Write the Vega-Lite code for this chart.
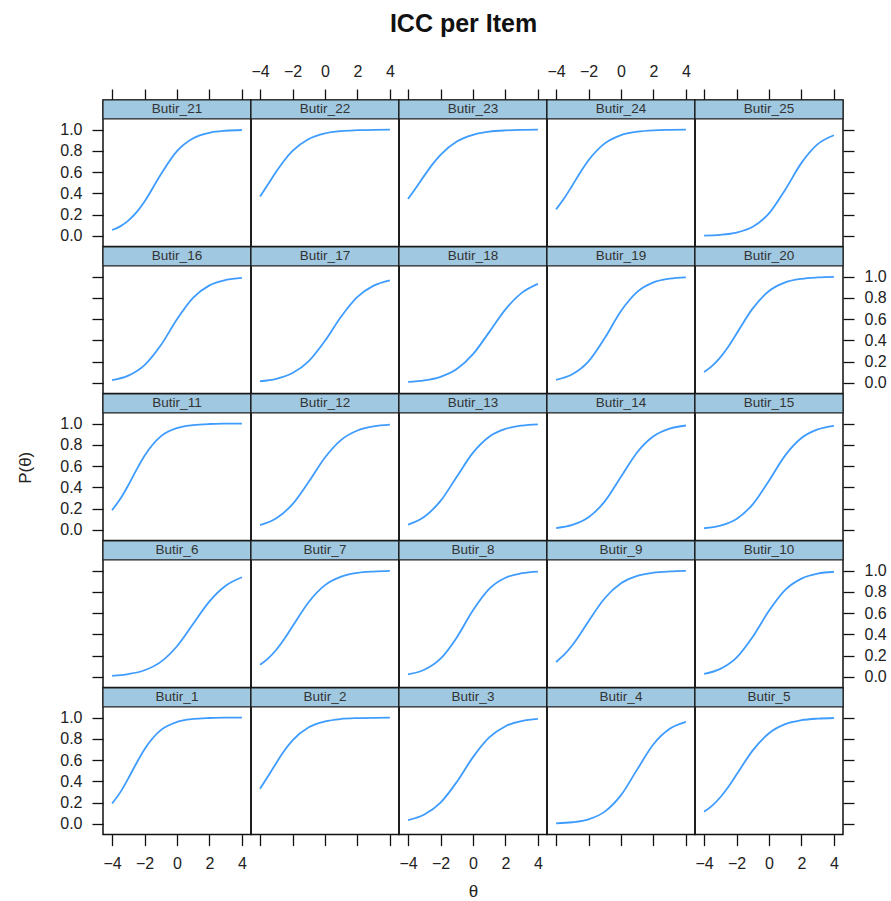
{
"$schema": "https://vega.github.io/schema/vega-lite/v6.json",
"title": {"text": "ICC per Item", "font": "Liberation Sans", "fontSize": 25, "fontWeight": "bold", "color": "#111", "anchor": "middle", "offset": 25, "dx": 12},
"padding": {"left": 16, "top": 12, "right": 0, "bottom": 6},
"config": {
 "view": {"stroke": "#111", "strokeWidth": 1.5},
 "axis": {"grid": false, "domain": false, "tickColor": "#111", "tickSize": 11, "tickWidth": 1.3, "labelFont": "Liberation Sans", "labelFontSize": 16, "labelColor": "#222", "labelPadding": 10, "titleFont": "Liberation Sans", "titleFontSize": 17, "titleFontWeight": "normal", "titleColor": "#222", "labelFlush": false, "labelOverlap": false}
},
"datasets": {"icc": [
{"item":"Butir_1","theta":-4,"p":0.192},{"item":"Butir_1","theta":-3.5,"p":0.297},{"item":"Butir_1","theta":-3,"p":0.429},{"item":"Butir_1","theta":-2.5,"p":0.571},{"item":"Butir_1","theta":-2,"p":0.703},{"item":"Butir_1","theta":-1,"p":0.882},{"item":"Butir_1","theta":0,"p":0.959},{"item":"Butir_1","theta":1,"p":0.987},{"item":"Butir_1","theta":2,"p":0.996},{"item":"Butir_1","theta":3,"p":0.999},{"item":"Butir_1","theta":4,"p":1.0},
{"item":"Butir_2","theta":-4,"p":0.332},{"item":"Butir_2","theta":-3.5,"p":0.45},{"item":"Butir_2","theta":-3,"p":0.574},{"item":"Butir_2","theta":-2.5,"p":0.69},{"item":"Butir_2","theta":-2,"p":0.786},{"item":"Butir_2","theta":-1,"p":0.909},{"item":"Butir_2","theta":0,"p":0.964},{"item":"Butir_2","theta":1,"p":0.987},{"item":"Butir_2","theta":2,"p":0.995},{"item":"Butir_2","theta":3,"p":0.998},{"item":"Butir_2","theta":4,"p":0.999},
{"item":"Butir_3","theta":-4,"p":0.036},{"item":"Butir_3","theta":-3,"p":0.089},{"item":"Butir_3","theta":-2,"p":0.201},{"item":"Butir_3","theta":-1,"p":0.395},{"item":"Butir_3","theta":0,"p":0.628},{"item":"Butir_3","theta":1,"p":0.813},{"item":"Butir_3","theta":2,"p":0.919},{"item":"Butir_3","theta":3,"p":0.967},{"item":"Butir_3","theta":4,"p":0.987},
{"item":"Butir_4","theta":-4,"p":0.006},{"item":"Butir_4","theta":-3,"p":0.016},{"item":"Butir_4","theta":-2,"p":0.044},{"item":"Butir_4","theta":-1,"p":0.116},{"item":"Butir_4","theta":0,"p":0.271},{"item":"Butir_4","theta":1,"p":0.513},{"item":"Butir_4","theta":2,"p":0.749},{"item":"Butir_4","theta":3,"p":0.894},{"item":"Butir_4","theta":4,"p":0.96},
{"item":"Butir_5","theta":-4,"p":0.115},{"item":"Butir_5","theta":-3.5,"p":0.173},{"item":"Butir_5","theta":-3,"p":0.251},{"item":"Butir_5","theta":-2.5,"p":0.35},{"item":"Butir_5","theta":-2,"p":0.464},{"item":"Butir_5","theta":-1,"p":0.692},{"item":"Butir_5","theta":0,"p":0.853},{"item":"Butir_5","theta":1,"p":0.938},{"item":"Butir_5","theta":2,"p":0.975},{"item":"Butir_5","theta":3,"p":0.99},{"item":"Butir_5","theta":4,"p":0.996},
{"item":"Butir_6","theta":-4,"p":0.011},{"item":"Butir_6","theta":-3,"p":0.027},{"item":"Butir_6","theta":-2,"p":0.063},{"item":"Butir_6","theta":-1,"p":0.142},{"item":"Butir_6","theta":0,"p":0.289},{"item":"Butir_6","theta":1,"p":0.5},{"item":"Butir_6","theta":2,"p":0.711},{"item":"Butir_6","theta":3,"p":0.858},{"item":"Butir_6","theta":4,"p":0.937},
{"item":"Butir_7","theta":-4,"p":0.115},{"item":"Butir_7","theta":-3.5,"p":0.175},{"item":"Butir_7","theta":-3,"p":0.256},{"item":"Butir_7","theta":-2.5,"p":0.359},{"item":"Butir_7","theta":-2,"p":0.476},{"item":"Butir_7","theta":-1,"p":0.705},{"item":"Butir_7","theta":0,"p":0.863},{"item":"Butir_7","theta":1,"p":0.943},{"item":"Butir_7","theta":2,"p":0.978},{"item":"Butir_7","theta":3,"p":0.991},{"item":"Butir_7","theta":4,"p":0.997},
{"item":"Butir_8","theta":-4,"p":0.025},{"item":"Butir_8","theta":-3,"p":0.068},{"item":"Butir_8","theta":-2,"p":0.172},{"item":"Butir_8","theta":-1,"p":0.372},{"item":"Butir_8","theta":0,"p":0.628},{"item":"Butir_8","theta":1,"p":0.829},{"item":"Butir_8","theta":2,"p":0.933},{"item":"Butir_8","theta":3,"p":0.975},{"item":"Butir_8","theta":4,"p":0.991},
{"item":"Butir_9","theta":-4,"p":0.141},{"item":"Butir_9","theta":-3.5,"p":0.209},{"item":"Butir_9","theta":-3,"p":0.298},{"item":"Butir_9","theta":-2.5,"p":0.406},{"item":"Butir_9","theta":-2,"p":0.524},{"item":"Butir_9","theta":-1,"p":0.74},{"item":"Butir_9","theta":0,"p":0.88},{"item":"Butir_9","theta":1,"p":0.95},{"item":"Butir_9","theta":2,"p":0.98},{"item":"Butir_9","theta":3,"p":0.992},{"item":"Butir_9","theta":4,"p":0.997},
{"item":"Butir_10","theta":-4,"p":0.029},{"item":"Butir_10","theta":-3,"p":0.076},{"item":"Butir_10","theta":-2,"p":0.182},{"item":"Butir_10","theta":-1,"p":0.378},{"item":"Butir_10","theta":0,"p":0.622},{"item":"Butir_10","theta":1,"p":0.818},{"item":"Butir_10","theta":2,"p":0.924},{"item":"Butir_10","theta":3,"p":0.971},{"item":"Butir_10","theta":4,"p":0.989},
{"item":"Butir_11","theta":-4,"p":0.186},{"item":"Butir_11","theta":-3.5,"p":0.29},{"item":"Butir_11","theta":-3,"p":0.421},{"item":"Butir_11","theta":-2.5,"p":0.565},{"item":"Butir_11","theta":-2,"p":0.698},{"item":"Butir_11","theta":-1,"p":0.88},{"item":"Butir_11","theta":0,"p":0.958},{"item":"Butir_11","theta":1,"p":0.986},{"item":"Butir_11","theta":2,"p":0.996},{"item":"Butir_11","theta":3,"p":0.999},{"item":"Butir_11","theta":4,"p":1.0},
{"item":"Butir_12","theta":-4,"p":0.046},{"item":"Butir_12","theta":-3,"p":0.11},{"item":"Butir_12","theta":-2,"p":0.242},{"item":"Butir_12","theta":-1,"p":0.453},{"item":"Butir_12","theta":0,"p":0.681},{"item":"Butir_12","theta":1,"p":0.847},{"item":"Butir_12","theta":2,"p":0.935},{"item":"Butir_12","theta":3,"p":0.974},{"item":"Butir_12","theta":4,"p":0.99},
{"item":"Butir_13","theta":-4,"p":0.05},{"item":"Butir_13","theta":-3,"p":0.124},{"item":"Butir_13","theta":-2,"p":0.273},{"item":"Butir_13","theta":-1,"p":0.5},{"item":"Butir_13","theta":0,"p":0.727},{"item":"Butir_13","theta":1,"p":0.877},{"item":"Butir_13","theta":2,"p":0.95},{"item":"Butir_13","theta":3,"p":0.981},{"item":"Butir_13","theta":4,"p":0.993},
{"item":"Butir_14","theta":-4,"p":0.018},{"item":"Butir_14","theta":-3,"p":0.047},{"item":"Butir_14","theta":-2,"p":0.119},{"item":"Butir_14","theta":-1,"p":0.269},{"item":"Butir_14","theta":0,"p":0.5},{"item":"Butir_14","theta":1,"p":0.731},{"item":"Butir_14","theta":2,"p":0.881},{"item":"Butir_14","theta":3,"p":0.953},{"item":"Butir_14","theta":4,"p":0.982},
{"item":"Butir_15","theta":-4,"p":0.016},{"item":"Butir_15","theta":-3,"p":0.041},{"item":"Butir_15","theta":-2,"p":0.104},{"item":"Butir_15","theta":-1,"p":0.241},{"item":"Butir_15","theta":0,"p":0.463},{"item":"Butir_15","theta":1,"p":0.701},{"item":"Butir_15","theta":2,"p":0.864},{"item":"Butir_15","theta":3,"p":0.945},{"item":"Butir_15","theta":4,"p":0.979},
{"item":"Butir_16","theta":-4,"p":0.027},{"item":"Butir_16","theta":-3,"p":0.069},{"item":"Butir_16","theta":-2,"p":0.168},{"item":"Butir_16","theta":-1,"p":0.354},{"item":"Butir_16","theta":0,"p":0.599},{"item":"Butir_16","theta":1,"p":0.802},{"item":"Butir_16","theta":2,"p":0.917},{"item":"Butir_16","theta":3,"p":0.968},{"item":"Butir_16","theta":4,"p":0.988},
{"item":"Butir_17","theta":-4,"p":0.016},{"item":"Butir_17","theta":-3,"p":0.039},{"item":"Butir_17","theta":-2,"p":0.093},{"item":"Butir_17","theta":-1,"p":0.206},{"item":"Butir_17","theta":0,"p":0.397},{"item":"Butir_17","theta":1,"p":0.625},{"item":"Butir_17","theta":2,"p":0.809},{"item":"Butir_17","theta":3,"p":0.915},{"item":"Butir_17","theta":4,"p":0.965},
{"item":"Butir_18","theta":-4,"p":0.01},{"item":"Butir_18","theta":-3,"p":0.024},{"item":"Butir_18","theta":-2,"p":0.058},{"item":"Butir_18","theta":-1,"p":0.131},{"item":"Butir_18","theta":0,"p":0.271},{"item":"Butir_18","theta":1,"p":0.478},{"item":"Butir_18","theta":2,"p":0.692},{"item":"Butir_18","theta":3,"p":0.847},{"item":"Butir_18","theta":4,"p":0.932},
{"item":"Butir_19","theta":-4,"p":0.03},{"item":"Butir_19","theta":-3,"p":0.082},{"item":"Butir_19","theta":-2,"p":0.203},{"item":"Butir_19","theta":-1,"p":0.422},{"item":"Butir_19","theta":0,"p":0.676},{"item":"Butir_19","theta":1,"p":0.856},{"item":"Butir_19","theta":2,"p":0.945},{"item":"Butir_19","theta":3,"p":0.98},{"item":"Butir_19","theta":4,"p":0.993},
{"item":"Butir_20","theta":-4,"p":0.104},{"item":"Butir_20","theta":-3.5,"p":0.161},{"item":"Butir_20","theta":-3,"p":0.241},{"item":"Butir_20","theta":-2.5,"p":0.343},{"item":"Butir_20","theta":-2,"p":0.463},{"item":"Butir_20","theta":-1,"p":0.701},{"item":"Butir_20","theta":0,"p":0.864},{"item":"Butir_20","theta":1,"p":0.945},{"item":"Butir_20","theta":2,"p":0.979},{"item":"Butir_20","theta":3,"p":0.992},{"item":"Butir_20","theta":4,"p":0.997},
{"item":"Butir_21","theta":-4,"p":0.056},{"item":"Butir_21","theta":-3.5,"p":0.09},{"item":"Butir_21","theta":-3,"p":0.144},{"item":"Butir_21","theta":-2.5,"p":0.221},{"item":"Butir_21","theta":-2,"p":0.324},{"item":"Butir_21","theta":-1,"p":0.578},{"item":"Butir_21","theta":0,"p":0.797},{"item":"Butir_21","theta":1,"p":0.918},{"item":"Butir_21","theta":2,"p":0.97},{"item":"Butir_21","theta":3,"p":0.989},{"item":"Butir_21","theta":4,"p":0.996},
{"item":"Butir_22","theta":-4,"p":0.372},{"item":"Butir_22","theta":-3.5,"p":0.488},{"item":"Butir_22","theta":-3,"p":0.605},{"item":"Butir_22","theta":-2.5,"p":0.712},{"item":"Butir_22","theta":-2,"p":0.799},{"item":"Butir_22","theta":-1,"p":0.911},{"item":"Butir_22","theta":0,"p":0.964},{"item":"Butir_22","theta":1,"p":0.986},{"item":"Butir_22","theta":2,"p":0.994},{"item":"Butir_22","theta":3,"p":0.998},{"item":"Butir_22","theta":4,"p":0.999},
{"item":"Butir_23","theta":-4,"p":0.348},{"item":"Butir_23","theta":-3.5,"p":0.455},{"item":"Butir_23","theta":-3,"p":0.567},{"item":"Butir_23","theta":-2.5,"p":0.673},{"item":"Butir_23","theta":-2,"p":0.763},{"item":"Butir_23","theta":-1,"p":0.888},{"item":"Butir_23","theta":0,"p":0.951},{"item":"Butir_23","theta":1,"p":0.98},{"item":"Butir_23","theta":2,"p":0.992},{"item":"Butir_23","theta":3,"p":0.997},{"item":"Butir_23","theta":4,"p":0.999},
{"item":"Butir_24","theta":-4,"p":0.25},{"item":"Butir_24","theta":-3.5,"p":0.354},{"item":"Butir_24","theta":-3,"p":0.475},{"item":"Butir_24","theta":-2.5,"p":0.599},{"item":"Butir_24","theta":-2,"p":0.711},{"item":"Butir_24","theta":-1,"p":0.87},{"item":"Butir_24","theta":0,"p":0.948},{"item":"Butir_24","theta":1,"p":0.98},{"item":"Butir_24","theta":2,"p":0.993},{"item":"Butir_24","theta":3,"p":0.997},{"item":"Butir_24","theta":4,"p":0.999},
{"item":"Butir_25","theta":-4,"p":0.004},{"item":"Butir_25","theta":-3,"p":0.011},{"item":"Butir_25","theta":-2,"p":0.032},{"item":"Butir_25","theta":-1,"p":0.086},{"item":"Butir_25","theta":0,"p":0.212},{"item":"Butir_25","theta":1,"p":0.435},{"item":"Butir_25","theta":2,"p":0.687},{"item":"Butir_25","theta":3,"p":0.863},{"item":"Butir_25","theta":4,"p":0.947}
]},
"columns": 5,
"spacing": 0,
"bounds": "flush",
"concat": [
{"width":148,"height":146.6,"resolve":{"axis":{"x":"independent","y":"independent"}},"layer":[
 {"data":{"name":"icc"},"transform":[{"filter":"datum.item==='Butir_21'"}],"mark":{"type":"line","interpolate":"monotone","color":"#3f9cff","strokeWidth":1.8},"encoding":{"x":{"field":"theta","type":"quantitative","scale":{"domain":[-4.56,4.56],"nice":false,"zero":false},"axis":{"orient":"top","values":[-4,-2,0,2,4],"labels":false,"title":null}},"y":{"field":"p","type":"quantitative","scale":{"domain":[-0.1,1.278],"nice":false,"zero":false},"axis":{"orient":"left","values":[0,0.2,0.4,0.6,0.8,1],"format":".1f","title":null}}}},
 {"data":{"values":[{"item":"Butir_21"}]},"mark":{"type":"rect","fill":"#a0c9e1","stroke":"#222","strokeWidth":1.2},"encoding":{"x":{"datum":-4.56,"type":"quantitative","axis":null},"x2":{"datum":4.56},"y":{"datum":1.1,"type":"quantitative","axis":null},"y2":{"datum":1.278}}},
 {"data":{"values":[{"item":"Butir_21"}]},"mark":{"type":"text","font":"Liberation Sans","fontSize":13.5,"color":"#333","baseline":"middle"},"encoding":{"x":{"datum":0,"type":"quantitative","axis":null},"y":{"datum":1.189,"type":"quantitative","axis":null},"text":{"field":"item"}}}
]},
{"width":148,"height":146.6,"resolve":{"axis":{"x":"independent","y":"independent"}},"layer":[
 {"data":{"name":"icc"},"transform":[{"filter":"datum.item==='Butir_22'"}],"mark":{"type":"line","interpolate":"monotone","color":"#3f9cff","strokeWidth":1.8},"encoding":{"x":{"field":"theta","type":"quantitative","scale":{"domain":[-4.56,4.56],"nice":false,"zero":false},"axis":{"orient":"top","values":[-4,-2,0,2,4],"title":null}},"y":{"field":"p","type":"quantitative","scale":{"domain":[-0.1,1.278],"nice":false,"zero":false},"axis":null}}},
 {"data":{"values":[{"item":"Butir_22"}]},"mark":{"type":"rect","fill":"#a0c9e1","stroke":"#222","strokeWidth":1.2},"encoding":{"x":{"datum":-4.56,"type":"quantitative","axis":null},"x2":{"datum":4.56},"y":{"datum":1.1,"type":"quantitative","axis":null},"y2":{"datum":1.278}}},
 {"data":{"values":[{"item":"Butir_22"}]},"mark":{"type":"text","font":"Liberation Sans","fontSize":13.5,"color":"#333","baseline":"middle"},"encoding":{"x":{"datum":0,"type":"quantitative","axis":null},"y":{"datum":1.189,"type":"quantitative","axis":null},"text":{"field":"item"}}}
]},
{"width":148,"height":146.6,"resolve":{"axis":{"x":"independent","y":"independent"}},"layer":[
 {"data":{"name":"icc"},"transform":[{"filter":"datum.item==='Butir_23'"}],"mark":{"type":"line","interpolate":"monotone","color":"#3f9cff","strokeWidth":1.8},"encoding":{"x":{"field":"theta","type":"quantitative","scale":{"domain":[-4.56,4.56],"nice":false,"zero":false},"axis":{"orient":"top","values":[-4,-2,0,2,4],"labels":false,"title":null}},"y":{"field":"p","type":"quantitative","scale":{"domain":[-0.1,1.278],"nice":false,"zero":false},"axis":null}}},
 {"data":{"values":[{"item":"Butir_23"}]},"mark":{"type":"rect","fill":"#a0c9e1","stroke":"#222","strokeWidth":1.2},"encoding":{"x":{"datum":-4.56,"type":"quantitative","axis":null},"x2":{"datum":4.56},"y":{"datum":1.1,"type":"quantitative","axis":null},"y2":{"datum":1.278}}},
 {"data":{"values":[{"item":"Butir_23"}]},"mark":{"type":"text","font":"Liberation Sans","fontSize":13.5,"color":"#333","baseline":"middle"},"encoding":{"x":{"datum":0,"type":"quantitative","axis":null},"y":{"datum":1.189,"type":"quantitative","axis":null},"text":{"field":"item"}}}
]},
{"width":148,"height":146.6,"resolve":{"axis":{"x":"independent","y":"independent"}},"layer":[
 {"data":{"name":"icc"},"transform":[{"filter":"datum.item==='Butir_24'"}],"mark":{"type":"line","interpolate":"monotone","color":"#3f9cff","strokeWidth":1.8},"encoding":{"x":{"field":"theta","type":"quantitative","scale":{"domain":[-4.56,4.56],"nice":false,"zero":false},"axis":{"orient":"top","values":[-4,-2,0,2,4],"title":null}},"y":{"field":"p","type":"quantitative","scale":{"domain":[-0.1,1.278],"nice":false,"zero":false},"axis":null}}},
 {"data":{"values":[{"item":"Butir_24"}]},"mark":{"type":"rect","fill":"#a0c9e1","stroke":"#222","strokeWidth":1.2},"encoding":{"x":{"datum":-4.56,"type":"quantitative","axis":null},"x2":{"datum":4.56},"y":{"datum":1.1,"type":"quantitative","axis":null},"y2":{"datum":1.278}}},
 {"data":{"values":[{"item":"Butir_24"}]},"mark":{"type":"text","font":"Liberation Sans","fontSize":13.5,"color":"#333","baseline":"middle"},"encoding":{"x":{"datum":0,"type":"quantitative","axis":null},"y":{"datum":1.189,"type":"quantitative","axis":null},"text":{"field":"item"}}}
]},
{"width":148,"height":146.6,"resolve":{"axis":{"x":"independent","y":"independent"}},"layer":[
 {"data":{"name":"icc"},"transform":[{"filter":"datum.item==='Butir_25'"}],"mark":{"type":"line","interpolate":"monotone","color":"#3f9cff","strokeWidth":1.8},"encoding":{"x":{"field":"theta","type":"quantitative","scale":{"domain":[-4.56,4.56],"nice":false,"zero":false},"axis":{"orient":"top","values":[-4,-2,0,2,4],"labels":false,"title":null}},"y":{"field":"p","type":"quantitative","scale":{"domain":[-0.1,1.278],"nice":false,"zero":false},"axis":{"orient":"right","values":[0,0.2,0.4,0.6,0.8,1],"labels":false,"title":null}}}},
 {"data":{"values":[{"item":"Butir_25"}]},"mark":{"type":"rect","fill":"#a0c9e1","stroke":"#222","strokeWidth":1.2},"encoding":{"x":{"datum":-4.56,"type":"quantitative","axis":null},"x2":{"datum":4.56},"y":{"datum":1.1,"type":"quantitative","axis":null},"y2":{"datum":1.278}}},
 {"data":{"values":[{"item":"Butir_25"}]},"mark":{"type":"text","font":"Liberation Sans","fontSize":13.5,"color":"#333","baseline":"middle"},"encoding":{"x":{"datum":0,"type":"quantitative","axis":null},"y":{"datum":1.189,"type":"quantitative","axis":null},"text":{"field":"item"}}}
]},
{"width":148,"height":146.6,"resolve":{"axis":{"x":"independent","y":"independent"}},"layer":[
 {"data":{"name":"icc"},"transform":[{"filter":"datum.item==='Butir_16'"}],"mark":{"type":"line","interpolate":"monotone","color":"#3f9cff","strokeWidth":1.8},"encoding":{"x":{"field":"theta","type":"quantitative","scale":{"domain":[-4.56,4.56],"nice":false,"zero":false},"axis":null},"y":{"field":"p","type":"quantitative","scale":{"domain":[-0.1,1.278],"nice":false,"zero":false},"axis":{"orient":"left","values":[0,0.2,0.4,0.6,0.8,1],"labels":false,"title":null}}}},
 {"data":{"values":[{"item":"Butir_16"}]},"mark":{"type":"rect","fill":"#a0c9e1","stroke":"#222","strokeWidth":1.2},"encoding":{"x":{"datum":-4.56,"type":"quantitative","axis":null},"x2":{"datum":4.56},"y":{"datum":1.1,"type":"quantitative","axis":null},"y2":{"datum":1.278}}},
 {"data":{"values":[{"item":"Butir_16"}]},"mark":{"type":"text","font":"Liberation Sans","fontSize":13.5,"color":"#333","baseline":"middle"},"encoding":{"x":{"datum":0,"type":"quantitative","axis":null},"y":{"datum":1.189,"type":"quantitative","axis":null},"text":{"field":"item"}}}
]},
{"width":148,"height":146.6,"resolve":{"axis":{"x":"independent","y":"independent"}},"layer":[
 {"data":{"name":"icc"},"transform":[{"filter":"datum.item==='Butir_17'"}],"mark":{"type":"line","interpolate":"monotone","color":"#3f9cff","strokeWidth":1.8},"encoding":{"x":{"field":"theta","type":"quantitative","scale":{"domain":[-4.56,4.56],"nice":false,"zero":false},"axis":null},"y":{"field":"p","type":"quantitative","scale":{"domain":[-0.1,1.278],"nice":false,"zero":false},"axis":null}}},
 {"data":{"values":[{"item":"Butir_17"}]},"mark":{"type":"rect","fill":"#a0c9e1","stroke":"#222","strokeWidth":1.2},"encoding":{"x":{"datum":-4.56,"type":"quantitative","axis":null},"x2":{"datum":4.56},"y":{"datum":1.1,"type":"quantitative","axis":null},"y2":{"datum":1.278}}},
 {"data":{"values":[{"item":"Butir_17"}]},"mark":{"type":"text","font":"Liberation Sans","fontSize":13.5,"color":"#333","baseline":"middle"},"encoding":{"x":{"datum":0,"type":"quantitative","axis":null},"y":{"datum":1.189,"type":"quantitative","axis":null},"text":{"field":"item"}}}
]},
{"width":148,"height":146.6,"resolve":{"axis":{"x":"independent","y":"independent"}},"layer":[
 {"data":{"name":"icc"},"transform":[{"filter":"datum.item==='Butir_18'"}],"mark":{"type":"line","interpolate":"monotone","color":"#3f9cff","strokeWidth":1.8},"encoding":{"x":{"field":"theta","type":"quantitative","scale":{"domain":[-4.56,4.56],"nice":false,"zero":false},"axis":null},"y":{"field":"p","type":"quantitative","scale":{"domain":[-0.1,1.278],"nice":false,"zero":false},"axis":null}}},
 {"data":{"values":[{"item":"Butir_18"}]},"mark":{"type":"rect","fill":"#a0c9e1","stroke":"#222","strokeWidth":1.2},"encoding":{"x":{"datum":-4.56,"type":"quantitative","axis":null},"x2":{"datum":4.56},"y":{"datum":1.1,"type":"quantitative","axis":null},"y2":{"datum":1.278}}},
 {"data":{"values":[{"item":"Butir_18"}]},"mark":{"type":"text","font":"Liberation Sans","fontSize":13.5,"color":"#333","baseline":"middle"},"encoding":{"x":{"datum":0,"type":"quantitative","axis":null},"y":{"datum":1.189,"type":"quantitative","axis":null},"text":{"field":"item"}}}
]},
{"width":148,"height":146.6,"resolve":{"axis":{"x":"independent","y":"independent"}},"layer":[
 {"data":{"name":"icc"},"transform":[{"filter":"datum.item==='Butir_19'"}],"mark":{"type":"line","interpolate":"monotone","color":"#3f9cff","strokeWidth":1.8},"encoding":{"x":{"field":"theta","type":"quantitative","scale":{"domain":[-4.56,4.56],"nice":false,"zero":false},"axis":null},"y":{"field":"p","type":"quantitative","scale":{"domain":[-0.1,1.278],"nice":false,"zero":false},"axis":null}}},
 {"data":{"values":[{"item":"Butir_19"}]},"mark":{"type":"rect","fill":"#a0c9e1","stroke":"#222","strokeWidth":1.2},"encoding":{"x":{"datum":-4.56,"type":"quantitative","axis":null},"x2":{"datum":4.56},"y":{"datum":1.1,"type":"quantitative","axis":null},"y2":{"datum":1.278}}},
 {"data":{"values":[{"item":"Butir_19"}]},"mark":{"type":"text","font":"Liberation Sans","fontSize":13.5,"color":"#333","baseline":"middle"},"encoding":{"x":{"datum":0,"type":"quantitative","axis":null},"y":{"datum":1.189,"type":"quantitative","axis":null},"text":{"field":"item"}}}
]},
{"width":148,"height":146.6,"resolve":{"axis":{"x":"independent","y":"independent"}},"layer":[
 {"data":{"name":"icc"},"transform":[{"filter":"datum.item==='Butir_20'"}],"mark":{"type":"line","interpolate":"monotone","color":"#3f9cff","strokeWidth":1.8},"encoding":{"x":{"field":"theta","type":"quantitative","scale":{"domain":[-4.56,4.56],"nice":false,"zero":false},"axis":null},"y":{"field":"p","type":"quantitative","scale":{"domain":[-0.1,1.278],"nice":false,"zero":false},"axis":{"orient":"right","values":[0,0.2,0.4,0.6,0.8,1],"format":".1f","title":null}}}},
 {"data":{"values":[{"item":"Butir_20"}]},"mark":{"type":"rect","fill":"#a0c9e1","stroke":"#222","strokeWidth":1.2},"encoding":{"x":{"datum":-4.56,"type":"quantitative","axis":null},"x2":{"datum":4.56},"y":{"datum":1.1,"type":"quantitative","axis":null},"y2":{"datum":1.278}}},
 {"data":{"values":[{"item":"Butir_20"}]},"mark":{"type":"text","font":"Liberation Sans","fontSize":13.5,"color":"#333","baseline":"middle"},"encoding":{"x":{"datum":0,"type":"quantitative","axis":null},"y":{"datum":1.189,"type":"quantitative","axis":null},"text":{"field":"item"}}}
]},
{"width":148,"height":146.6,"resolve":{"axis":{"x":"independent","y":"independent"}},"layer":[
 {"data":{"name":"icc"},"transform":[{"filter":"datum.item==='Butir_11'"}],"mark":{"type":"line","interpolate":"monotone","color":"#3f9cff","strokeWidth":1.8},"encoding":{"x":{"field":"theta","type":"quantitative","scale":{"domain":[-4.56,4.56],"nice":false,"zero":false},"axis":null},"y":{"field":"p","type":"quantitative","scale":{"domain":[-0.1,1.278],"nice":false,"zero":false},"axis":{"orient":"left","values":[0,0.2,0.4,0.6,0.8,1],"format":".1f","title":"P(θ)","titlePadding":25}}}},
 {"data":{"values":[{"item":"Butir_11"}]},"mark":{"type":"rect","fill":"#a0c9e1","stroke":"#222","strokeWidth":1.2},"encoding":{"x":{"datum":-4.56,"type":"quantitative","axis":null},"x2":{"datum":4.56},"y":{"datum":1.1,"type":"quantitative","axis":null},"y2":{"datum":1.278}}},
 {"data":{"values":[{"item":"Butir_11"}]},"mark":{"type":"text","font":"Liberation Sans","fontSize":13.5,"color":"#333","baseline":"middle"},"encoding":{"x":{"datum":0,"type":"quantitative","axis":null},"y":{"datum":1.189,"type":"quantitative","axis":null},"text":{"field":"item"}}}
]},
{"width":148,"height":146.6,"resolve":{"axis":{"x":"independent","y":"independent"}},"layer":[
 {"data":{"name":"icc"},"transform":[{"filter":"datum.item==='Butir_12'"}],"mark":{"type":"line","interpolate":"monotone","color":"#3f9cff","strokeWidth":1.8},"encoding":{"x":{"field":"theta","type":"quantitative","scale":{"domain":[-4.56,4.56],"nice":false,"zero":false},"axis":null},"y":{"field":"p","type":"quantitative","scale":{"domain":[-0.1,1.278],"nice":false,"zero":false},"axis":null}}},
 {"data":{"values":[{"item":"Butir_12"}]},"mark":{"type":"rect","fill":"#a0c9e1","stroke":"#222","strokeWidth":1.2},"encoding":{"x":{"datum":-4.56,"type":"quantitative","axis":null},"x2":{"datum":4.56},"y":{"datum":1.1,"type":"quantitative","axis":null},"y2":{"datum":1.278}}},
 {"data":{"values":[{"item":"Butir_12"}]},"mark":{"type":"text","font":"Liberation Sans","fontSize":13.5,"color":"#333","baseline":"middle"},"encoding":{"x":{"datum":0,"type":"quantitative","axis":null},"y":{"datum":1.189,"type":"quantitative","axis":null},"text":{"field":"item"}}}
]},
{"width":148,"height":146.6,"resolve":{"axis":{"x":"independent","y":"independent"}},"layer":[
 {"data":{"name":"icc"},"transform":[{"filter":"datum.item==='Butir_13'"}],"mark":{"type":"line","interpolate":"monotone","color":"#3f9cff","strokeWidth":1.8},"encoding":{"x":{"field":"theta","type":"quantitative","scale":{"domain":[-4.56,4.56],"nice":false,"zero":false},"axis":null},"y":{"field":"p","type":"quantitative","scale":{"domain":[-0.1,1.278],"nice":false,"zero":false},"axis":null}}},
 {"data":{"values":[{"item":"Butir_13"}]},"mark":{"type":"rect","fill":"#a0c9e1","stroke":"#222","strokeWidth":1.2},"encoding":{"x":{"datum":-4.56,"type":"quantitative","axis":null},"x2":{"datum":4.56},"y":{"datum":1.1,"type":"quantitative","axis":null},"y2":{"datum":1.278}}},
 {"data":{"values":[{"item":"Butir_13"}]},"mark":{"type":"text","font":"Liberation Sans","fontSize":13.5,"color":"#333","baseline":"middle"},"encoding":{"x":{"datum":0,"type":"quantitative","axis":null},"y":{"datum":1.189,"type":"quantitative","axis":null},"text":{"field":"item"}}}
]},
{"width":148,"height":146.6,"resolve":{"axis":{"x":"independent","y":"independent"}},"layer":[
 {"data":{"name":"icc"},"transform":[{"filter":"datum.item==='Butir_14'"}],"mark":{"type":"line","interpolate":"monotone","color":"#3f9cff","strokeWidth":1.8},"encoding":{"x":{"field":"theta","type":"quantitative","scale":{"domain":[-4.56,4.56],"nice":false,"zero":false},"axis":null},"y":{"field":"p","type":"quantitative","scale":{"domain":[-0.1,1.278],"nice":false,"zero":false},"axis":null}}},
 {"data":{"values":[{"item":"Butir_14"}]},"mark":{"type":"rect","fill":"#a0c9e1","stroke":"#222","strokeWidth":1.2},"encoding":{"x":{"datum":-4.56,"type":"quantitative","axis":null},"x2":{"datum":4.56},"y":{"datum":1.1,"type":"quantitative","axis":null},"y2":{"datum":1.278}}},
 {"data":{"values":[{"item":"Butir_14"}]},"mark":{"type":"text","font":"Liberation Sans","fontSize":13.5,"color":"#333","baseline":"middle"},"encoding":{"x":{"datum":0,"type":"quantitative","axis":null},"y":{"datum":1.189,"type":"quantitative","axis":null},"text":{"field":"item"}}}
]},
{"width":148,"height":146.6,"resolve":{"axis":{"x":"independent","y":"independent"}},"layer":[
 {"data":{"name":"icc"},"transform":[{"filter":"datum.item==='Butir_15'"}],"mark":{"type":"line","interpolate":"monotone","color":"#3f9cff","strokeWidth":1.8},"encoding":{"x":{"field":"theta","type":"quantitative","scale":{"domain":[-4.56,4.56],"nice":false,"zero":false},"axis":null},"y":{"field":"p","type":"quantitative","scale":{"domain":[-0.1,1.278],"nice":false,"zero":false},"axis":{"orient":"right","values":[0,0.2,0.4,0.6,0.8,1],"labels":false,"title":null}}}},
 {"data":{"values":[{"item":"Butir_15"}]},"mark":{"type":"rect","fill":"#a0c9e1","stroke":"#222","strokeWidth":1.2},"encoding":{"x":{"datum":-4.56,"type":"quantitative","axis":null},"x2":{"datum":4.56},"y":{"datum":1.1,"type":"quantitative","axis":null},"y2":{"datum":1.278}}},
 {"data":{"values":[{"item":"Butir_15"}]},"mark":{"type":"text","font":"Liberation Sans","fontSize":13.5,"color":"#333","baseline":"middle"},"encoding":{"x":{"datum":0,"type":"quantitative","axis":null},"y":{"datum":1.189,"type":"quantitative","axis":null},"text":{"field":"item"}}}
]},
{"width":148,"height":146.6,"resolve":{"axis":{"x":"independent","y":"independent"}},"layer":[
 {"data":{"name":"icc"},"transform":[{"filter":"datum.item==='Butir_6'"}],"mark":{"type":"line","interpolate":"monotone","color":"#3f9cff","strokeWidth":1.8},"encoding":{"x":{"field":"theta","type":"quantitative","scale":{"domain":[-4.56,4.56],"nice":false,"zero":false},"axis":null},"y":{"field":"p","type":"quantitative","scale":{"domain":[-0.1,1.278],"nice":false,"zero":false},"axis":{"orient":"left","values":[0,0.2,0.4,0.6,0.8,1],"labels":false,"title":null}}}},
 {"data":{"values":[{"item":"Butir_6"}]},"mark":{"type":"rect","fill":"#a0c9e1","stroke":"#222","strokeWidth":1.2},"encoding":{"x":{"datum":-4.56,"type":"quantitative","axis":null},"x2":{"datum":4.56},"y":{"datum":1.1,"type":"quantitative","axis":null},"y2":{"datum":1.278}}},
 {"data":{"values":[{"item":"Butir_6"}]},"mark":{"type":"text","font":"Liberation Sans","fontSize":13.5,"color":"#333","baseline":"middle"},"encoding":{"x":{"datum":0,"type":"quantitative","axis":null},"y":{"datum":1.189,"type":"quantitative","axis":null},"text":{"field":"item"}}}
]},
{"width":148,"height":146.6,"resolve":{"axis":{"x":"independent","y":"independent"}},"layer":[
 {"data":{"name":"icc"},"transform":[{"filter":"datum.item==='Butir_7'"}],"mark":{"type":"line","interpolate":"monotone","color":"#3f9cff","strokeWidth":1.8},"encoding":{"x":{"field":"theta","type":"quantitative","scale":{"domain":[-4.56,4.56],"nice":false,"zero":false},"axis":null},"y":{"field":"p","type":"quantitative","scale":{"domain":[-0.1,1.278],"nice":false,"zero":false},"axis":null}}},
 {"data":{"values":[{"item":"Butir_7"}]},"mark":{"type":"rect","fill":"#a0c9e1","stroke":"#222","strokeWidth":1.2},"encoding":{"x":{"datum":-4.56,"type":"quantitative","axis":null},"x2":{"datum":4.56},"y":{"datum":1.1,"type":"quantitative","axis":null},"y2":{"datum":1.278}}},
 {"data":{"values":[{"item":"Butir_7"}]},"mark":{"type":"text","font":"Liberation Sans","fontSize":13.5,"color":"#333","baseline":"middle"},"encoding":{"x":{"datum":0,"type":"quantitative","axis":null},"y":{"datum":1.189,"type":"quantitative","axis":null},"text":{"field":"item"}}}
]},
{"width":148,"height":146.6,"resolve":{"axis":{"x":"independent","y":"independent"}},"layer":[
 {"data":{"name":"icc"},"transform":[{"filter":"datum.item==='Butir_8'"}],"mark":{"type":"line","interpolate":"monotone","color":"#3f9cff","strokeWidth":1.8},"encoding":{"x":{"field":"theta","type":"quantitative","scale":{"domain":[-4.56,4.56],"nice":false,"zero":false},"axis":null},"y":{"field":"p","type":"quantitative","scale":{"domain":[-0.1,1.278],"nice":false,"zero":false},"axis":null}}},
 {"data":{"values":[{"item":"Butir_8"}]},"mark":{"type":"rect","fill":"#a0c9e1","stroke":"#222","strokeWidth":1.2},"encoding":{"x":{"datum":-4.56,"type":"quantitative","axis":null},"x2":{"datum":4.56},"y":{"datum":1.1,"type":"quantitative","axis":null},"y2":{"datum":1.278}}},
 {"data":{"values":[{"item":"Butir_8"}]},"mark":{"type":"text","font":"Liberation Sans","fontSize":13.5,"color":"#333","baseline":"middle"},"encoding":{"x":{"datum":0,"type":"quantitative","axis":null},"y":{"datum":1.189,"type":"quantitative","axis":null},"text":{"field":"item"}}}
]},
{"width":148,"height":146.6,"resolve":{"axis":{"x":"independent","y":"independent"}},"layer":[
 {"data":{"name":"icc"},"transform":[{"filter":"datum.item==='Butir_9'"}],"mark":{"type":"line","interpolate":"monotone","color":"#3f9cff","strokeWidth":1.8},"encoding":{"x":{"field":"theta","type":"quantitative","scale":{"domain":[-4.56,4.56],"nice":false,"zero":false},"axis":null},"y":{"field":"p","type":"quantitative","scale":{"domain":[-0.1,1.278],"nice":false,"zero":false},"axis":null}}},
 {"data":{"values":[{"item":"Butir_9"}]},"mark":{"type":"rect","fill":"#a0c9e1","stroke":"#222","strokeWidth":1.2},"encoding":{"x":{"datum":-4.56,"type":"quantitative","axis":null},"x2":{"datum":4.56},"y":{"datum":1.1,"type":"quantitative","axis":null},"y2":{"datum":1.278}}},
 {"data":{"values":[{"item":"Butir_9"}]},"mark":{"type":"text","font":"Liberation Sans","fontSize":13.5,"color":"#333","baseline":"middle"},"encoding":{"x":{"datum":0,"type":"quantitative","axis":null},"y":{"datum":1.189,"type":"quantitative","axis":null},"text":{"field":"item"}}}
]},
{"width":148,"height":146.6,"resolve":{"axis":{"x":"independent","y":"independent"}},"layer":[
 {"data":{"name":"icc"},"transform":[{"filter":"datum.item==='Butir_10'"}],"mark":{"type":"line","interpolate":"monotone","color":"#3f9cff","strokeWidth":1.8},"encoding":{"x":{"field":"theta","type":"quantitative","scale":{"domain":[-4.56,4.56],"nice":false,"zero":false},"axis":null},"y":{"field":"p","type":"quantitative","scale":{"domain":[-0.1,1.278],"nice":false,"zero":false},"axis":{"orient":"right","values":[0,0.2,0.4,0.6,0.8,1],"format":".1f","title":null}}}},
 {"data":{"values":[{"item":"Butir_10"}]},"mark":{"type":"rect","fill":"#a0c9e1","stroke":"#222","strokeWidth":1.2},"encoding":{"x":{"datum":-4.56,"type":"quantitative","axis":null},"x2":{"datum":4.56},"y":{"datum":1.1,"type":"quantitative","axis":null},"y2":{"datum":1.278}}},
 {"data":{"values":[{"item":"Butir_10"}]},"mark":{"type":"text","font":"Liberation Sans","fontSize":13.5,"color":"#333","baseline":"middle"},"encoding":{"x":{"datum":0,"type":"quantitative","axis":null},"y":{"datum":1.189,"type":"quantitative","axis":null},"text":{"field":"item"}}}
]},
{"width":148,"height":146.6,"resolve":{"axis":{"x":"independent","y":"independent"}},"layer":[
 {"data":{"name":"icc"},"transform":[{"filter":"datum.item==='Butir_1'"}],"mark":{"type":"line","interpolate":"monotone","color":"#3f9cff","strokeWidth":1.8},"encoding":{"x":{"field":"theta","type":"quantitative","scale":{"domain":[-4.56,4.56],"nice":false,"zero":false},"axis":{"orient":"bottom","values":[-4,-2,0,2,4],"title":null}},"y":{"field":"p","type":"quantitative","scale":{"domain":[-0.1,1.278],"nice":false,"zero":false},"axis":{"orient":"left","values":[0,0.2,0.4,0.6,0.8,1],"format":".1f","title":null}}}},
 {"data":{"values":[{"item":"Butir_1"}]},"mark":{"type":"rect","fill":"#a0c9e1","stroke":"#222","strokeWidth":1.2},"encoding":{"x":{"datum":-4.56,"type":"quantitative","axis":null},"x2":{"datum":4.56},"y":{"datum":1.1,"type":"quantitative","axis":null},"y2":{"datum":1.278}}},
 {"data":{"values":[{"item":"Butir_1"}]},"mark":{"type":"text","font":"Liberation Sans","fontSize":13.5,"color":"#333","baseline":"middle"},"encoding":{"x":{"datum":0,"type":"quantitative","axis":null},"y":{"datum":1.189,"type":"quantitative","axis":null},"text":{"field":"item"}}}
]},
{"width":148,"height":146.6,"resolve":{"axis":{"x":"independent","y":"independent"}},"layer":[
 {"data":{"name":"icc"},"transform":[{"filter":"datum.item==='Butir_2'"}],"mark":{"type":"line","interpolate":"monotone","color":"#3f9cff","strokeWidth":1.8},"encoding":{"x":{"field":"theta","type":"quantitative","scale":{"domain":[-4.56,4.56],"nice":false,"zero":false},"axis":{"orient":"bottom","values":[-4,-2,0,2,4],"labels":false,"title":null}},"y":{"field":"p","type":"quantitative","scale":{"domain":[-0.1,1.278],"nice":false,"zero":false},"axis":null}}},
 {"data":{"values":[{"item":"Butir_2"}]},"mark":{"type":"rect","fill":"#a0c9e1","stroke":"#222","strokeWidth":1.2},"encoding":{"x":{"datum":-4.56,"type":"quantitative","axis":null},"x2":{"datum":4.56},"y":{"datum":1.1,"type":"quantitative","axis":null},"y2":{"datum":1.278}}},
 {"data":{"values":[{"item":"Butir_2"}]},"mark":{"type":"text","font":"Liberation Sans","fontSize":13.5,"color":"#333","baseline":"middle"},"encoding":{"x":{"datum":0,"type":"quantitative","axis":null},"y":{"datum":1.189,"type":"quantitative","axis":null},"text":{"field":"item"}}}
]},
{"width":148,"height":146.6,"resolve":{"axis":{"x":"independent","y":"independent"}},"layer":[
 {"data":{"name":"icc"},"transform":[{"filter":"datum.item==='Butir_3'"}],"mark":{"type":"line","interpolate":"monotone","color":"#3f9cff","strokeWidth":1.8},"encoding":{"x":{"field":"theta","type":"quantitative","scale":{"domain":[-4.56,4.56],"nice":false,"zero":false},"axis":{"orient":"bottom","values":[-4,-2,0,2,4],"title":"θ","titlePadding":12}},"y":{"field":"p","type":"quantitative","scale":{"domain":[-0.1,1.278],"nice":false,"zero":false},"axis":null}}},
 {"data":{"values":[{"item":"Butir_3"}]},"mark":{"type":"rect","fill":"#a0c9e1","stroke":"#222","strokeWidth":1.2},"encoding":{"x":{"datum":-4.56,"type":"quantitative","axis":null},"x2":{"datum":4.56},"y":{"datum":1.1,"type":"quantitative","axis":null},"y2":{"datum":1.278}}},
 {"data":{"values":[{"item":"Butir_3"}]},"mark":{"type":"text","font":"Liberation Sans","fontSize":13.5,"color":"#333","baseline":"middle"},"encoding":{"x":{"datum":0,"type":"quantitative","axis":null},"y":{"datum":1.189,"type":"quantitative","axis":null},"text":{"field":"item"}}}
]},
{"width":148,"height":146.6,"resolve":{"axis":{"x":"independent","y":"independent"}},"layer":[
 {"data":{"name":"icc"},"transform":[{"filter":"datum.item==='Butir_4'"}],"mark":{"type":"line","interpolate":"monotone","color":"#3f9cff","strokeWidth":1.8},"encoding":{"x":{"field":"theta","type":"quantitative","scale":{"domain":[-4.56,4.56],"nice":false,"zero":false},"axis":{"orient":"bottom","values":[-4,-2,0,2,4],"labels":false,"title":null}},"y":{"field":"p","type":"quantitative","scale":{"domain":[-0.1,1.278],"nice":false,"zero":false},"axis":null}}},
 {"data":{"values":[{"item":"Butir_4"}]},"mark":{"type":"rect","fill":"#a0c9e1","stroke":"#222","strokeWidth":1.2},"encoding":{"x":{"datum":-4.56,"type":"quantitative","axis":null},"x2":{"datum":4.56},"y":{"datum":1.1,"type":"quantitative","axis":null},"y2":{"datum":1.278}}},
 {"data":{"values":[{"item":"Butir_4"}]},"mark":{"type":"text","font":"Liberation Sans","fontSize":13.5,"color":"#333","baseline":"middle"},"encoding":{"x":{"datum":0,"type":"quantitative","axis":null},"y":{"datum":1.189,"type":"quantitative","axis":null},"text":{"field":"item"}}}
]},
{"width":148,"height":146.6,"resolve":{"axis":{"x":"independent","y":"independent"}},"layer":[
 {"data":{"name":"icc"},"transform":[{"filter":"datum.item==='Butir_5'"}],"mark":{"type":"line","interpolate":"monotone","color":"#3f9cff","strokeWidth":1.8},"encoding":{"x":{"field":"theta","type":"quantitative","scale":{"domain":[-4.56,4.56],"nice":false,"zero":false},"axis":{"orient":"bottom","values":[-4,-2,0,2,4],"title":null}},"y":{"field":"p","type":"quantitative","scale":{"domain":[-0.1,1.278],"nice":false,"zero":false},"axis":{"orient":"right","values":[0,0.2,0.4,0.6,0.8,1],"labels":false,"title":null}}}},
 {"data":{"values":[{"item":"Butir_5"}]},"mark":{"type":"rect","fill":"#a0c9e1","stroke":"#222","strokeWidth":1.2},"encoding":{"x":{"datum":-4.56,"type":"quantitative","axis":null},"x2":{"datum":4.56},"y":{"datum":1.1,"type":"quantitative","axis":null},"y2":{"datum":1.278}}},
 {"data":{"values":[{"item":"Butir_5"}]},"mark":{"type":"text","font":"Liberation Sans","fontSize":13.5,"color":"#333","baseline":"middle"},"encoding":{"x":{"datum":0,"type":"quantitative","axis":null},"y":{"datum":1.189,"type":"quantitative","axis":null},"text":{"field":"item"}}}
]}
]
}
